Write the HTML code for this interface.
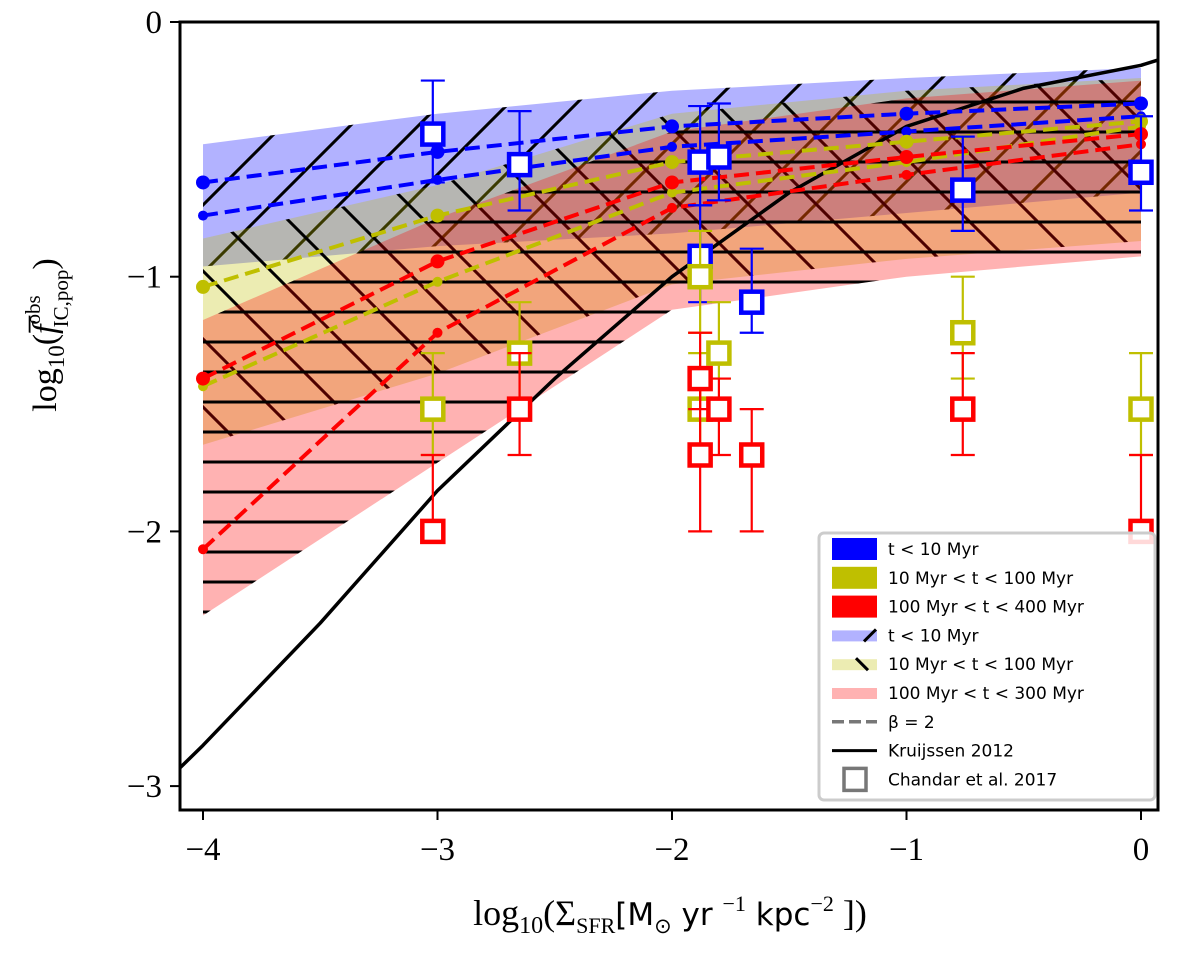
<!DOCTYPE html>
<html><head><meta charset="utf-8"><style>
body{margin:0;background:#fff;}
svg{display:block;}
.tk{font-family:"Liberation Serif",serif;font-size:33px;}
.lg{font-family:"DejaVu Sans","Liberation Sans",sans-serif;font-size:17px;}
</style></head><body>
<svg id="chart" width="1200" height="954" viewBox="0 0 1200 954" xmlns="http://www.w3.org/2000/svg">
<defs>
<clipPath id="plotclip"><rect x="180" y="22" width="978" height="788"/></clipPath>
<pattern id="hfwd" patternUnits="userSpaceOnUse" width="68" height="68">
<path d="M-10,10 L10,-10 M0,68 L68,0 M58,78 L78,58" stroke="#000" stroke-width="3"/></pattern>
<pattern id="hback" patternUnits="userSpaceOnUse" width="68" height="68">
<path d="M-10,58 L10,78 M0,0 L68,68 M58,-10 L78,10" stroke="#000" stroke-width="3"/></pattern>
<pattern id="hhor" patternUnits="userSpaceOnUse" width="20" height="30">
<path d="M0,12 L20,12" stroke="#000" stroke-width="3"/></pattern>
</defs>
<g id="plot" clip-path="url(#plotclip)"></g>
<rect x="180" y="22" width="978" height="788" fill="none" stroke="#000" stroke-width="3"/>
<g id="axes"></g>
<text x="670" y="925" text-anchor="middle" font-family="Liberation Serif, serif" font-size="36">log<tspan font-size="24" dy="8">10</tspan><tspan dy="-8">(Σ</tspan><tspan font-size="22" dy="8">SFR</tspan><tspan dy="-8" font-family="DejaVu Sans, sans-serif" font-size="31">[M</tspan><tspan font-size="21" dy="8">⊙</tspan><tspan dy="-8" font-family="DejaVu Sans, sans-serif" font-size="31"> yr </tspan><tspan font-size="22" dy="-14">−1</tspan><tspan dy="14" font-family="DejaVu Sans, sans-serif" font-size="31"> kpc</tspan><tspan font-size="22" dy="-14">−2</tspan><tspan dy="14"> ])</tspan></text>
<text transform="translate(56,335) rotate(-90)" text-anchor="middle" font-family="Liberation Serif, serif" font-size="34">log<tspan font-size="23" dy="8">10</tspan><tspan dy="-8">(</tspan><tspan font-style="italic">f̅</tspan><tspan font-size="21" dy="-16">obs</tspan><tspan font-size="21" dx="-32" dy="28">IC,pop</tspan><tspan dy="-12">)</tspan></text>
<g id="legend"></g>
</svg>
<script>
const bandX = [-4, -3, -2, -1, 0];
const blueTop = [-0.48, -0.36, -0.27, -0.22, -0.18];
const blueBot = [-0.96, -0.88, -0.83, -0.75, -0.67];
const yellowTop = [-0.85, -0.64, -0.36, -0.27, -0.22];
const yellowBot = [-1.66, -1.38, -1.03, -0.93, -0.86];
const redTop = [-1.17, -0.77, -0.43, -0.30, -0.23];
const redBot = [-2.33, -1.73, -1.13, -1.00, -0.92];

const modelX = [-4, -3, -2, -1, 0];
const blueA = [-0.63, -0.51, -0.41, -0.36, -0.32];
const blueB = [-0.76, -0.62, -0.49, -0.43, -0.37];
const yellowA = [-1.04, -0.76, -0.55, -0.47, -0.39];
const yellowB = [-1.43, -1.02, -0.67, -0.55, -0.41];
const redA = [-1.40, -0.94, -0.63, -0.53, -0.44];
const redB = [-2.07, -1.22, -0.73, -0.60, -0.48];

const krX = [-4.1, -4, -3.75, -3.5, -3.25, -3, -2.5, -2, -1.5, -1, -0.5, 0, 0.07];
const krY = [-2.93, -2.84, -2.6, -2.36, -2.1, -1.84, -1.40, -1.00, -0.67, -0.41, -0.26, -0.17, -0.15];

const blueObsX = [-3.02, -2.65, -1.88, -1.88, -1.80, -1.66, -0.76, 0];
const blueObsY = [-0.44, -0.56, -0.55, -0.92, -0.53, -1.10, -0.66, -0.59];
const blueObsLo = [-0.63, -0.74, -0.72, -1.10, -0.70, -1.22, -0.82, -0.74];
const blueObsHi = [-0.23, -0.35, -0.33, -0.72, -0.32, -0.89, -0.45, -0.37];
const yelObsX = [-3.02, -2.65, -1.88, -1.88, -1.80, -0.76, 0];
const yelObsY = [-1.52, -1.30, -1.00, -1.52, -1.30, -1.22, -1.52];
const yelObsLo = [-1.70, -1.52, -1.22, -1.70, -1.40, -1.40, -1.70];
const yelObsHi = [-1.30, -1.10, -0.82, -1.30, -1.10, -1.00, -1.30];
const redObsX = [-3.02, -2.65, -1.88, -1.88, -1.80, -1.66, -0.76, 0];
const redObsY = [-2.00, -1.52, -1.40, -1.70, -1.52, -1.70, -1.52, -2.00];
const redObsLo = [-2.00, -1.70, -1.52, -2.00, -1.70, -2.00, -1.70, -2.00];
const redObsHi = [-1.70, -1.30, -1.22, -1.40, -1.40, -1.52, -1.30, -1.70];

const xTicks = [-4, -3, -2, -1, 0];
const xTickLabels = ['−4', '−3', '−2', '−1', '0'];
const yTicks = [0, -1, -2, -3];
const yTickLabels = ['0', '−1', '−2', '−3'];

const NS = 'http://www.w3.org/2000/svg';
function X(v){ return 203 + (v + 4) * 234.5; }
function Y(v){ return 22 - v * 254.7; }
function mk(tag, attrs, parent){
  const e = document.createElementNS(NS, tag);
  for (const k in attrs) e.setAttribute(k, attrs[k]);
  parent.appendChild(e); return e;
}
const plot = document.getElementById('plot');
const axes = document.getElementById('axes');
const legend = document.getElementById('legend');

function bandPath(top, bot){
  let d = '';
  bandX.forEach((x, i) => { d += (i ? 'L' : 'M') + X(x) + ',' + Y(top[i]); });
  for (let i = bandX.length - 1; i >= 0; i--) d += 'L' + X(bandX[i]) + ',' + Y(bot[i]);
  return d + 'Z';
}
function drawBand(name, top, bot, fill, hatch){
  const f = mk('path', {d: bandPath(top, bot), fill: fill}, plot);
  
  
  const h = mk('path', {d: bandPath(top, bot), fill: 'url(#' + hatch + ')'}, plot);
  
  
}
drawBand('blue', blueTop, blueBot, 'rgba(0,0,255,0.3)', 'hfwd');
drawBand('yellow', yellowTop, yellowBot, 'rgba(191,191,0,0.3)', 'hback');
drawBand('red', redTop, redBot, 'rgba(255,0,0,0.3)', 'hhor');

let kd = '';
krX.forEach((x, i) => { kd += (i ? 'L' : 'M') + X(x) + ',' + Y(krY[i]); });
const kl = mk('path', {d: kd, fill: 'none', stroke: '#000', 'stroke-width': 3.5, 'stroke-linejoin': 'round'}, plot);



function drawModel(name, ys, color, r){
  let d = '';
  modelX.forEach((x, i) => { d += (i ? 'L' : 'M') + X(x) + ',' + Y(ys[i]); });
  const l = mk('path', {d: d, fill: 'none', stroke: color, 'stroke-width': 4, 'stroke-dasharray': '15,7'}, plot);
  
  
  modelX.forEach((x, i) => {
    const c = mk('circle', {cx: X(x), cy: Y(ys[i]), r: r, fill: color}, plot);
    
    
  });
}
drawModel('blue-model-a', blueA, '#0000ff', 7);
drawModel('blue-model-b', blueB, '#0000ff', 5);
drawModel('yellow-model-a', yellowA, '#bfbf00', 7);
drawModel('yellow-model-b', yellowB, '#bfbf00', 5);
drawModel('red-model-a', redA, '#ff0000', 7);
drawModel('red-model-b', redB, '#ff0000', 5);

function drawObs(name, xs, ys, lo, hi, color){
  xs.forEach((x, i) => {
    const px = X(x);
    const eb = mk('path', {d: 'M' + px + ',' + Y(lo[i]) + 'L' + px + ',' + Y(hi[i]) +
      'M' + (px - 12) + ',' + Y(lo[i]) + 'L' + (px + 12) + ',' + Y(lo[i]) +
      'M' + (px - 12) + ',' + Y(hi[i]) + 'L' + (px + 12) + ',' + Y(hi[i]),
      stroke: color, 'stroke-width': 2.2, fill: 'none'}, plot);
    
    
  });
  xs.forEach((x, i) => {
    const s = mk('rect', {x: X(x) - 10.5, y: Y(ys[i]) - 10.5, width: 21, height: 21, fill: '#fff', stroke: color, 'stroke-width': 4.5}, plot);
    
    
  });
}
drawObs('chandar-blue', blueObsX, blueObsY, blueObsLo, blueObsHi, '#0000ff');
drawObs('chandar-yellow', yelObsX, yelObsY, yelObsLo, yelObsHi, '#bfbf00');
drawObs('chandar-red', redObsX, redObsY, redObsLo, redObsHi, '#ff0000');

xTicks.forEach((v, i) => {
  const t = mk('line', {x1: X(v), x2: X(v), y1: 810, y2: 820, stroke: '#000', 'stroke-width': 2}, axes);
  
  
  const l = mk('text', {x: X(v), y: 860, 'text-anchor': 'middle', class: 'tk'}, axes);
  l.textContent = xTickLabels[i];
  
  
});
yTicks.forEach((v, i) => {
  const t = mk('line', {x1: 170, x2: 180, y1: Y(v), y2: Y(v), stroke: '#000', 'stroke-width': 2}, axes);
  
  
  const l = mk('text', {x: 162, y: Y(v) + 11, 'text-anchor': 'end', class: 'tk'}, axes);
  l.textContent = yTickLabels[i];
  
  
});

const lb = mk('rect', {x: 819, y: 533, width: 336, height: 267, rx: 5, fill: 'rgba(255,255,255,0.85)', stroke: '#ccc', 'stroke-width': 3}, legend);


const legRows = [
  ['solid', '#0000ff', '', 't < 10 Myr'],
  ['solid', '#bfbf00', '', '10 Myr < t < 100 Myr'],
  ['solid', '#ff0000', '', '100 Myr < t < 400 Myr'],
  ['hatch', 'rgba(0,0,255,0.3)', 'hfwd', 't < 10 Myr'],
  ['hatch', 'rgba(191,191,0,0.3)', 'hback', '10 Myr < t < 100 Myr'],
  ['hatch', 'rgba(255,0,0,0.3)', 'hhor', '100 Myr < t < 300 Myr'],
  ['dash', '#777', '', 'β = 2'],
  ['line', '#000', '', 'Kruijssen 2012'],
  ['square', '#777', '', 'Chandar et al. 2017']
];
legRows.forEach((r, i) => {
  const cy = 549 + i * 28.8;
  const g = mk('g', {}, legend);
  
  
  if (r[0] === 'solid') mk('rect', {x: 832, y: cy - 11, width: 45, height: 22, fill: r[1]}, g);
  if (r[0] === 'hatch') {
    mk('rect', {x: 832, y: cy - 5, width: 45, height: 11, fill: r[1]}, g);
    if (r[2] === 'hfwd') mk('path', {d: 'M864,' + (cy + 6) + 'L876,' + (cy - 6), stroke: '#000', 'stroke-width': 3}, g);
    if (r[2] === 'hback') mk('path', {d: 'M856,' + (cy - 6) + 'L868,' + (cy + 6), stroke: '#000', 'stroke-width': 3}, g);
  }
  if (r[0] === 'dash') mk('path', {d: 'M832,' + cy + 'L877,' + cy, stroke: r[1], 'stroke-width': 3.5, 'stroke-dasharray': '12,5'}, g);
  if (r[0] === 'line') mk('path', {d: 'M832,' + cy + 'L877,' + cy, stroke: r[1], 'stroke-width': 3}, g);
  if (r[0] === 'square') mk('rect', {x: 844, y: cy - 11, width: 22, height: 22, fill: '#fff', stroke: r[1], 'stroke-width': 3.5}, g);
  const t = mk('text', {x: 888, y: cy + 6, class: 'lg'}, g);
  t.textContent = r[3];
});
</script>
</body></html>
